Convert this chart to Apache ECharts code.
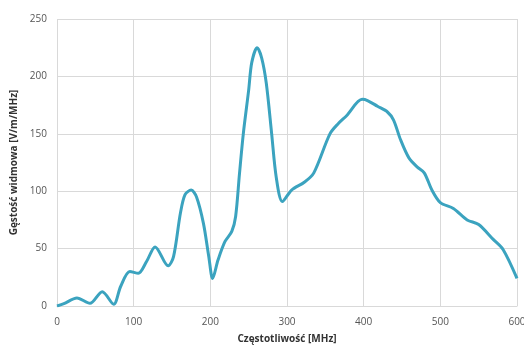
<!DOCTYPE html>
<html><head><meta charset="utf-8">
<script src="https://cdn.jsdelivr.net/npm/echarts@6/dist/echarts.min.js"></script>
<style>html,body{margin:0;padding:0;background:#fff}#c{width:524px;height:345px}</style>
</head><body><div id="c"></div>
<script>
const freq = [0,9,26,43,59,74,83,95,106,117,128,145,152,161,167,175,182,191,198,203,210,219,228,233,238,243,250,254,261,267,273,280,286,294,306,323,335,356,367,378,398,405,418,431,439,448,459,470,479,489,500,517,535,550,569,582,600];
const density = [0,2,7,2.3,12.5,1.5,17,30,28.5,39,51.5,35,43,81,97,101,95,72,43,24,40,56,65,78,115,150,188,212,225,216,194,150,112,91,101,108,116,150,159,166,180,179,174,169,162,145,129,121,116,101,90,85,75,71,58,49,24];
const xTicks = [0,100,200,300,400,500,600];
const yTicks = [0,50,100,150,200,250];
const xTitle = 'Częstotliwość [MHz]';
const yTitle = 'Gęstość widmowa [V/m/MHz]';

const chart = echarts.init(document.getElementById('c'));
const font = 'Open Sans';
chart.setOption({
  animation:false,
  grid:{left:57,right:7,top:19,bottom:39,containLabel:false,outerBoundsMode:'none'},
  xAxis:{type:'value',min:xTicks[0],max:xTicks[xTicks.length-1],interval:100,
    name:xTitle,nameLocation:'middle',nameGap:28,
    nameTextStyle:{fontFamily:font,fontSize:10,fontWeight:'bold',color:'#333'},
    axisLine:{show:true,lineStyle:{color:'#d9d9d9'}},axisTick:{show:false},
    axisLabel:{fontFamily:font,fontSize:10,color:'#555',margin:11},
    splitLine:{show:true,lineStyle:{color:'#d9d9d9',width:1}}},
  yAxis:{type:'value',min:yTicks[0],max:yTicks[yTicks.length-1],interval:50,
    name:yTitle,nameLocation:'middle',nameGap:31,nameRotate:90,
    nameTextStyle:{fontFamily:font,fontSize:10,fontWeight:'bold',color:'#333'},
    axisLine:{show:false},axisTick:{show:false},
    axisLabel:{fontFamily:font,fontSize:10,color:'#555',margin:10},
    splitLine:{show:true,lineStyle:{color:'#d9d9d9',width:1}}},
  series:[{type:'line',data:freq.map((f,i)=>[f,density[i]]),smooth:0.3,showSymbol:false,
    lineStyle:{color:'#3ba3bf',width:3}}]
});
</script></body></html>
